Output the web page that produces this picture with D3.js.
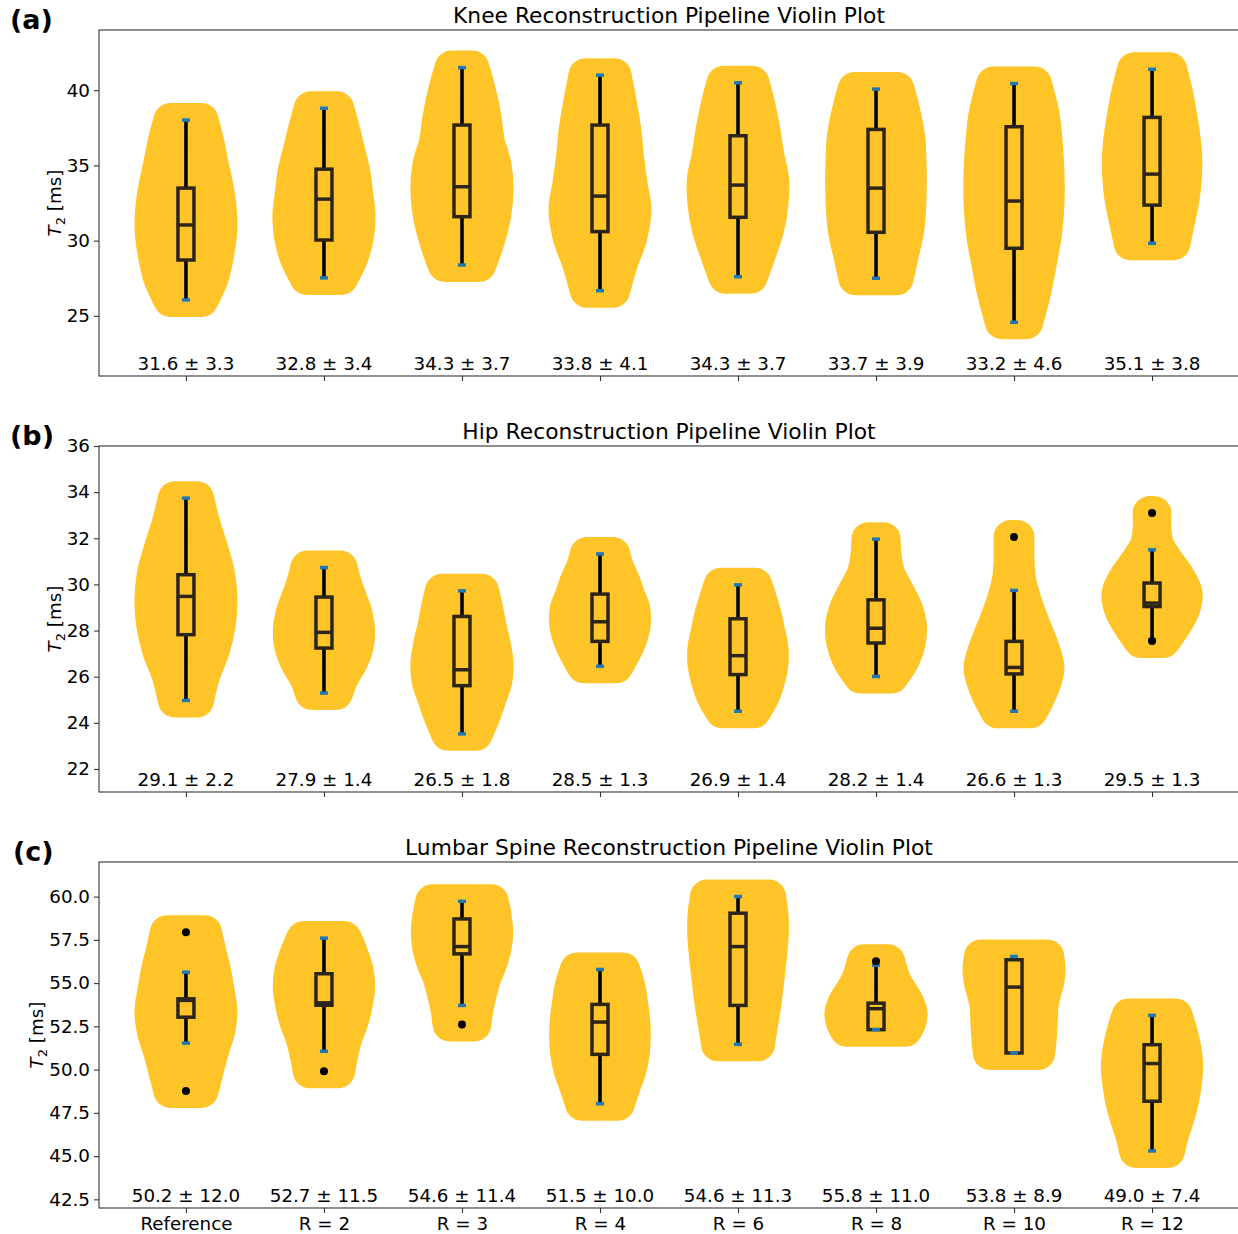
<!DOCTYPE html>
<html>
<head>
<meta charset="utf-8">
<script src="https://cdn.jsdelivr.net/npm/d3@7"></script>
<style>
  html, body { margin: 0; padding: 0; background: #fff; }
  svg { display: block; }
</style>
</head>
<body>
<script>
// ---- data ----------------------------------------------------------------
const categories = ["Reference", "R = 2", "R = 3", "R = 4", "R = 6", "R = 8", "R = 10", "R = 12"];

// box statistics per group: [whisker low, Q1, median, Q3, whisker high]
const kneeBoxes = [
  [26.06, 28.71, 31.04, 33.49, 38.01],
  [27.52, 30.04, 32.76, 34.75, 38.80],
  [28.38, 31.59, 33.58, 37.68, 41.50],
  [26.67, 30.60, 32.96, 37.68, 41.00],
  [27.60, 31.55, 33.69, 36.97, 40.49],
  [27.50, 30.55, 33.49, 37.39, 40.07],
  [24.57, 29.49, 32.63, 37.57, 40.44],
  [29.82, 32.36, 34.42, 38.19, 41.39]
];
const kneeOutliers = [[], [], [], [], [], [], [], []];
// relative violin width, sampled evenly from the lowest to the highest value
const kneeDensity = [
  [0.45, 0.75, 0.90, 0.99, 0.98, 0.89, 0.75, 0.62, 0.45],
  [0.50, 0.80, 0.96, 1.00, 0.93, 0.85, 0.70, 0.55, 0.38],
  [0.50, 0.75, 0.93, 1.00, 0.95, 0.75, 0.65, 0.50, 0.30],
  [0.38, 0.60, 0.88, 1.00, 0.88, 0.78, 0.70, 0.57, 0.42],
  [0.37, 0.62, 0.85, 0.97, 0.99, 0.85, 0.74, 0.60, 0.42],
  [0.60, 0.75, 0.90, 0.96, 0.98, 0.97, 0.93, 0.80, 0.62],
  [0.35, 0.58, 0.75, 0.90, 0.97, 0.97, 0.92, 0.82, 0.60],
  [0.62, 0.75, 0.88, 0.95, 0.96, 0.90, 0.80, 0.68, 0.52]
];
const kneeSummary = ["31.6 ± 3.3", "32.8 ± 3.4", "34.3 ± 3.7", "33.8 ± 4.1", "34.3 ± 3.7", "33.7 ± 3.9", "33.2 ± 4.6", "35.1 ± 3.8"];
const kneeTicks = [25, 30, 35, 40];

const hipBoxes = [
  [24.97, 27.82, 29.48, 30.42, 33.74],
  [25.29, 27.24, 27.92, 29.45, 30.73],
  [23.52, 25.61, 26.30, 28.61, 29.72],
  [26.45, 27.53, 28.38, 29.58, 31.32],
  [24.50, 26.09, 26.91, 28.51, 29.98],
  [26.01, 27.46, 28.10, 29.33, 31.96],
  [24.50, 26.12, 26.40, 27.53, 29.74],
  [27.60, 29.04, 29.19, 30.06, 31.50]
];
const hipOutliers = [[], [], [], [], [], [], [32.05], [33.09, 27.55]];
const hipDensity = [
  [0.32, 0.50, 0.78, 0.95, 1.00, 0.93, 0.73, 0.50, 0.32],
  [0.35, 0.52, 0.78, 0.95, 0.99, 0.92, 0.76, 0.60, 0.48],
  [0.40, 0.62, 0.80, 0.97, 1.00, 0.92, 0.80, 0.70, 0.58],
  [0.47, 0.70, 0.88, 0.98, 0.97, 0.82, 0.68, 0.50, 0.38],
  [0.46, 0.72, 0.88, 0.97, 0.97, 0.88, 0.78, 0.65, 0.50],
  [0.45, 0.78, 0.95, 0.98, 0.85, 0.60, 0.35, 0.25, 0.22],
  [0.48, 0.80, 0.97, 0.80, 0.55, 0.32, 0.15, 0.10, 0.10],
  [0.33, 0.65, 0.90, 0.97, 0.75, 0.42, 0.15, 0.07, 0.07]
];
const hipSummary = ["29.1 ± 2.2", "27.9 ± 1.4", "26.5 ± 1.8", "28.5 ± 1.3", "26.9 ± 1.4", "28.2 ± 1.4", "26.6 ± 1.3", "29.5 ± 1.3"];
const hipTicks = [22, 24, 26, 28, 30, 32, 34, 36];

const spineBoxes = [
  [51.53, 53.03, 54.00, 54.09, 55.63],
  [51.06, 53.72, 53.86, 55.54, 57.60],
  [53.71, 56.69, 57.11, 58.71, 59.73],
  [48.03, 50.88, 52.75, 53.77, 55.79],
  [51.46, 53.71, 57.11, 59.04, 60.00],
  [52.31, 52.31, 53.52, 53.84, 56.03],
  [50.96, 50.96, 54.77, 56.35, 56.54],
  [45.30, 48.17, 50.35, 51.44, 53.13]
];
const spineOutliers = [[57.94, 48.77], [49.91], [52.61], [], [], [56.26], [], []];
const spineDensity = [
  [0.45, 0.60, 0.75, 0.93, 1.00, 0.92, 0.82, 0.68, 0.55],
  [0.41, 0.50, 0.62, 0.80, 0.92, 0.99, 0.95, 0.80, 0.60],
  [0.36, 0.42, 0.52, 0.64, 0.82, 0.95, 0.99, 0.95, 0.86],
  [0.52, 0.68, 0.85, 0.95, 0.98, 0.96, 0.90, 0.82, 0.67],
  [0.58, 0.66, 0.75, 0.82, 0.88, 0.94, 0.98, 0.97, 0.90],
  [0.85, 0.97, 1.00, 0.92, 0.78, 0.62, 0.50, 0.42, 0.35],
  [0.70, 0.74, 0.76, 0.78, 0.80, 0.88, 0.97, 1.00, 0.96],
  [0.46, 0.58, 0.74, 0.87, 0.95, 0.99, 0.94, 0.83, 0.68]
];
const spineSummary = ["50.2 ± 12.0", "52.7 ± 11.5", "54.6 ± 11.4", "51.5 ± 10.0", "54.6 ± 11.3", "55.8 ± 11.0", "53.8 ± 8.9", "49.0 ± 7.4"];
const spineTicks = [42.5, 45, 47.5, 50, 52.5, 55, 57.5, 60];

// ---- styling -------------------------------------------------------------
const W = 1238, H = 1234;
const violinColor = "#fec428";
const boxColor = "#2e2519";
const capColor = "#1f77b4";
const spineColor = "#333";
const font = "DejaVu Sans, Verdana, sans-serif";
const labelSize = 18.3;

const svg = d3.select("body").append("svg")
  .attr("width", W).attr("height", H)
  .style("font-family", font);

const x = d3.scaleLinear().domain([0.37, 8.63]).range([99, 1239]);

const panels = [
  { letter: "(a)", letterX: 10, letterY: 29, title: "Knee Reconstruction Pipeline Violin Plot",
    top: 30, bottom: 376, domain: [21, 44], ticks: kneeTicks, fmt: d3.format("d"), ylabelX: 61,
    boxes: kneeBoxes, outliers: kneeOutliers, density: kneeDensity, summary: kneeSummary, xLabels: false },
  { letter: "(b)", letterX: 10, letterY: 445, title: "Hip Reconstruction Pipeline Violin Plot",
    top: 446, bottom: 792, domain: [21, 36], ticks: hipTicks, fmt: d3.format("d"), ylabelX: 61,
    boxes: hipBoxes, outliers: hipOutliers, density: hipDensity, summary: hipSummary, xLabels: false },
  { letter: "(c)", letterX: 13, letterY: 861, title: "Lumbar Spine Reconstruction Pipeline Violin Plot",
    top: 862, bottom: 1208, domain: [42, 62], ticks: spineTicks, fmt: d3.format(".1f"), ylabelX: 43,
    boxes: spineBoxes, outliers: spineOutliers, density: spineDensity, summary: spineSummary, xLabels: true }
];

panels.forEach(p => {
  const y = d3.scaleLinear().domain(p.domain).range([p.bottom, p.top]);
  const g = svg.append("g");

  // violins: smooth outline through the sampled widths, thick round stroke softens the ends
  categories.forEach((cat, i) => {
    const pos = i + 1;
    const b = p.boxes[i];
    const lo = d3.min([b[0], ...p.outliers[i]]);
    const hi = d3.max([b[4], ...p.outliers[i]]);
    const dens = p.density[i];
    const pts = dens.map((r, k) => ({ v: lo + (hi - lo) * k / (dens.length - 1), r }));
    const area = d3.area()
      .curve(d3.curveCatmullRom.alpha(0.5))
      .y(d => y(d.v))
      .x0(d => x(pos - 0.25 * d.r))
      .x1(d => x(pos + 0.25 * d.r));
    g.append("path")
      .attr("d", area(pts))
      .attr("fill", violinColor)
      .attr("stroke", violinColor)
      .attr("stroke-width", 34)
      .attr("stroke-linejoin", "round");
  });

  // whiskers, boxes, medians, caps, outliers
  categories.forEach((cat, i) => {
    const cx = x(i + 1);
    const [lo, q1, med, q3, hi] = p.boxes[i];
    g.append("line")
      .attr("x1", cx).attr("x2", cx).attr("y1", y(lo)).attr("y2", y(hi))
      .attr("stroke", "#000").attr("stroke-width", 3.6);
    g.append("rect")
      .attr("x", cx - 8).attr("width", 16)
      .attr("y", y(q3)).attr("height", Math.max(0, y(q1) - y(q3)))
      .attr("fill", violinColor)
      .attr("stroke", boxColor).attr("stroke-width", 3.5);
    g.append("line")
      .attr("x1", cx - 9).attr("x2", cx + 9).attr("y1", y(med)).attr("y2", y(med))
      .attr("stroke", boxColor).attr("stroke-width", 3.5);
    [lo, hi].forEach(v => {
      g.append("line")
        .attr("x1", cx - 4).attr("x2", cx + 4).attr("y1", y(v)).attr("y2", y(v))
        .attr("stroke", capColor).attr("stroke-width", 3.5);
    });
    p.outliers[i].forEach(v => {
      g.append("circle").attr("cx", cx).attr("cy", y(v)).attr("r", 4).attr("fill", "#000");
    });
    // mean ± sd annotation
    g.append("text")
      .attr("x", cx).attr("y", p.bottom - 6)
      .attr("text-anchor", "middle")
      .attr("font-size", labelSize)
      .attr("fill", "#000")
      .text(p.summary[i]);
  });

  // frame
  g.append("rect")
    .attr("x", x.range()[0]).attr("y", p.top)
    .attr("width", x.range()[1] - x.range()[0]).attr("height", p.bottom - p.top)
    .attr("fill", "none").attr("stroke", spineColor).attr("stroke-width", 1.1);

  // y axis
  const yAxis = d3.axisLeft(y).tickValues(p.ticks).tickFormat(p.fmt).tickSize(5).tickPadding(4);
  const ya = g.append("g").attr("transform", `translate(${x.range()[0]},0)`).call(yAxis);
  ya.select(".domain").remove();
  ya.selectAll(".tick line").attr("stroke", spineColor).attr("stroke-width", 1.1);
  ya.selectAll(".tick text").attr("font-size", labelSize).attr("font-family", font).attr("fill", "#000");

  // x axis
  const xAxis = d3.axisBottom(x).tickValues(d3.range(1, categories.length + 1))
    .tickFormat(d => p.xLabels ? categories[d - 1] : "").tickSize(5).tickPadding(4);
  const xa = g.append("g").attr("transform", `translate(0,${p.bottom})`).call(xAxis);
  xa.select(".domain").remove();
  xa.selectAll(".tick line").attr("stroke", spineColor).attr("stroke-width", 1.1);
  xa.selectAll(".tick text").attr("font-size", labelSize).attr("font-family", font).attr("fill", "#000");

  // y label: T₂ [ms]
  const yl = g.append("text")
    .attr("transform", `translate(${p.ylabelX},${(p.top + p.bottom) / 2}) rotate(-90)`)
    .attr("text-anchor", "middle")
    .attr("font-size", labelSize)
    .attr("fill", "#000");
  yl.append("tspan").attr("font-style", "italic").text("T");
  yl.append("tspan").attr("font-size", 13).attr("dy", 4).text("2");
  yl.append("tspan").attr("dy", -4).text(" [ms]");

  // title
  g.append("text")
    .attr("x", (x.range()[0] + x.range()[1]) / 2).attr("y", p.top - 7)
    .attr("text-anchor", "middle")
    .attr("font-size", 21.8)
    .attr("fill", "#000")
    .text(p.title);

  // panel letter
  g.append("text")
    .attr("x", p.letterX).attr("y", p.letterY)
    .attr("font-size", 27).attr("font-weight", "bold")
    .attr("fill", "#000")
    .text(p.letter);
});
</script>
</body>
</html>
